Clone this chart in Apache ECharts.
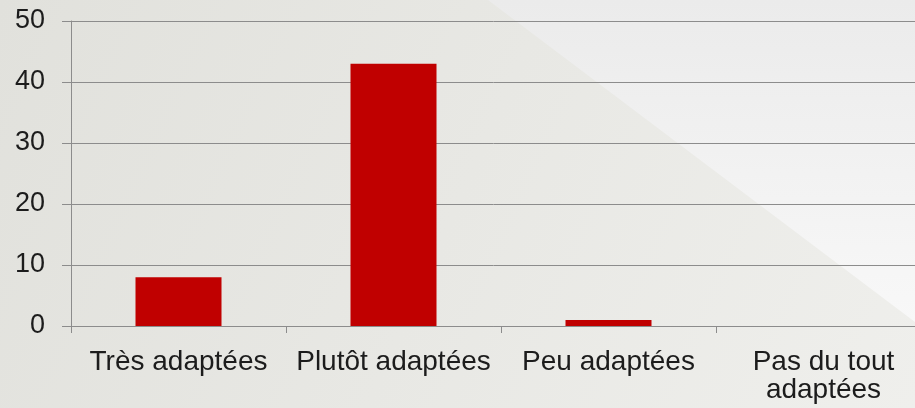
<!DOCTYPE html>
<html><head><meta charset="utf-8">
<script src="https://cdn.jsdelivr.net/npm/echarts@6/dist/echarts.min.js"></script>
<style>html,body{margin:0;padding:0;}#c{width:915px;height:408px;}</style>
</head><body><div id="c"></div>
<script>
var categories = ['Très adaptées', 'Plutôt adaptées', 'Peu adaptées', 'Pas du tout adaptées'];
var values = [8, 43, 1, 0];
var yTicks = [0, 10, 20, 30, 40, 50];

var chart = echarts.init(document.getElementById('c'));
var FONT = 'Liberation Sans';
chart.setOption({
  animation: false,
  backgroundColor: {
    type: 'linear', x: 0, y: 0, x2: 1, y2: 1,
    colorStops: [{offset: 0, color: '#e1e1dc'}, {offset: 1, color: '#efefec'}]
  },
  graphic: [{
    type: 'polygon', z: -10, silent: true,
    shape: {points: [[488, 0], [915, 0], [915, 322]]},
    style: {fill: {type: 'linear', x: 0, y: 0, x2: 0, y2: 1,
      colorStops: [{offset: 0, color: '#ebebeb'}, {offset: 1, color: '#f8f8f8'}]}}
  }],
  grid: {left: 71, top: 21, bottom: 82, width: 860, containLabel: false, outerBoundsMode: 'none'},
  xAxis: {
    type: 'category', data: categories,
    axisLine: {lineStyle: {color: '#8c8c8c', width: 1}},
    axisTick: {show: true, length: 7, lineStyle: {color: '#8c8c8c'}},
    axisLabel: {
      color: '#1c1c1c', fontFamily: FONT, fontSize: 28, margin: 22, lineHeight: 28, interval: 0,
      formatter: function (v) { return v === 'Pas du tout adaptées' ? 'Pas du tout\nadaptées' : v; }
    }
  },
  yAxis: {
    type: 'value', min: yTicks[0], max: yTicks[yTicks.length - 1], interval: 10,
    axisLine: {show: true, lineStyle: {color: '#8c8c8c', width: 1}},
    axisTick: {show: true, length: 9, lineStyle: {color: '#8c8c8c'}},
    splitLine: {lineStyle: {color: '#8c8c8c', width: 1}},
    axisLabel: {color: '#1c1c1c', fontFamily: FONT, fontSize: 27, margin: 26}
  },
  series: [{
    type: 'bar', data: values, barWidth: '40%',
    itemStyle: {color: '#c00000'}
  }]
});
</script></body></html>
